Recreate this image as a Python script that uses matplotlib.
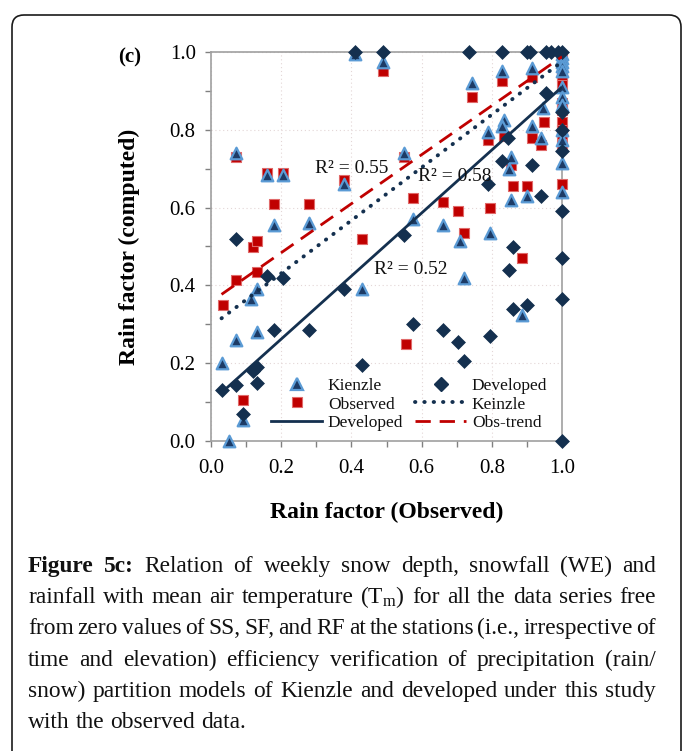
import matplotlib
matplotlib.use("Agg")
import matplotlib.pyplot as plt
from matplotlib.lines import Line2D
from matplotlib.patches import FancyBboxPatch
from matplotlib.ticker import MultipleLocator
import numpy as np

plt.rcParams['font.family'] = ['Liberation Serif', 'DejaVu Serif']
plt.rcParams['mathtext.fontset'] = 'custom'
plt.rcParams['mathtext.rm'] = 'Liberation Serif'
plt.rcParams['mathtext.it'] = 'Liberation Serif:italic'

# ---------------- data ----------------
kienzle_x = [0.03, 0.05, 0.07, 0.07, 0.09, 0.115, 0.13, 0.13, 0.16, 0.205, 0.18, 0.28,
             0.38, 0.43, 0.41, 0.49, 0.55, 0.575, 0.66, 0.71, 0.72, 0.745, 0.795, 0.79,
             0.835, 0.83, 0.83, 0.855, 0.85, 0.855, 0.90, 0.885, 0.915, 0.915, 0.94, 0.945,
             1.0, 1.0, 1.0, 1.0, 1.0, 1.0, 1.0, 1.0, 1.0, 1.0, 1.0, 1.0]
kienzle_y = [0.20, 0.0, 0.74, 0.26, 0.055, 0.365, 0.39, 0.28, 0.685, 0.685, 0.555, 0.56,
             0.66, 0.39, 0.995, 0.975, 0.74, 0.57, 0.555, 0.515, 0.42, 0.92, 0.535, 0.795,
             0.825, 0.81, 0.95, 0.73, 0.70, 0.62, 0.63, 0.325, 0.96, 0.81, 0.78, 0.855,
             0.995, 0.985, 0.975, 0.965, 0.95, 0.91, 0.885, 0.865, 0.80, 0.775, 0.715, 0.64]

observed_x = [0.035, 0.07, 0.09, 0.12, 0.13, 0.13, 0.07, 0.16, 0.205, 0.18, 0.28, 0.38,
              0.43, 0.49, 0.55, 0.555, 0.575, 0.66, 0.705, 0.72, 0.745, 0.79, 0.795, 0.83,
              0.835, 0.855, 0.86, 0.885, 0.90, 0.915, 0.915, 0.94, 0.95,
              1.0, 1.0, 1.0, 1.0, 1.0, 1.0, 1.0, 1.0, 1.0, 1.0, 1.0]
observed_y = [0.35, 0.415, 0.105, 0.50, 0.515, 0.435, 0.73, 0.69, 0.69, 0.61, 0.61, 0.67,
              0.52, 0.95, 0.73, 0.25, 0.625, 0.615, 0.59, 0.535, 0.885, 0.775, 0.60, 0.925,
              0.785, 0.71, 0.655, 0.47, 0.655, 0.935, 0.78, 0.76, 0.82,
              0.99, 0.95, 0.935, 0.915, 0.87, 0.85, 0.82, 0.80, 0.79, 0.76, 0.66]

developed_x = [0.03, 0.07, 0.07, 0.09, 0.12, 0.13, 0.13, 0.16, 0.205, 0.18, 0.28, 0.38,
               0.43, 0.41, 0.49, 0.55, 0.575, 0.66, 0.705, 0.72, 0.735, 0.79, 0.795, 0.83,
               0.83, 0.845, 0.86, 0.85, 0.86, 0.90, 0.90, 0.915, 0.91, 0.94, 0.955, 0.955,
               0.97, 0.99, 1.0, 1.0, 1.0, 1.0, 1.0, 1.0, 1.0, 1.0]
developed_y = [0.13, 0.52, 0.145, 0.07, 0.18, 0.19, 0.15, 0.425, 0.42, 0.285, 0.285, 0.39,
               0.195, 1.0, 1.0, 0.53, 0.30, 0.285, 0.255, 0.205, 1.0, 0.66, 0.27, 0.72,
               1.0, 0.78, 0.50, 0.44, 0.34, 0.35, 1.0, 0.71, 1.0, 0.63, 0.895, 1.0,
               1.0, 1.0, 1.0, 0.845, 0.80, 0.745, 0.59, 0.47, 0.365, 0.0]

# trend lines (intercept, slope) over the observed range
trend_range = [0.03, 1.0]
developed_trend = (0.100, 0.810)
keinzle_trend = (0.295, 0.680)
obs_trend = (0.358, 0.630)

r2_labels = ["R² = 0.55", "R² = 0.58", "R² = 0.52"]
r2_pos = [(0.296, 0.70), (0.59, 0.68), (0.464, 0.44)]

caption_lines = [
    "Figure 5c: Relation of weekly snow depth, snowfall (WE) and",
    "rainfall with mean air temperature (T$_\\mathrm{m}$) for all the data series free",
    "from zero values of SS, SF, and RF at the stations (i.e., irrespective of",
    "time and elevation) efficiency verification of precipitation (rain/",
    "snow) partition models of Kienzle and developed under this study",
    "with the observed data.",
]

# ---------------- figure ----------------
W, H = 683, 751
fig = plt.figure(figsize=(W / 100, H / 100), dpi=100)

frame = FancyBboxPatch((0.12, -0.5), 6.69, 7.36 + 0.5,
                       boxstyle="round,pad=0,rounding_size=0.12",
                       transform=fig.dpi_scale_trans, fill=False,
                       edgecolor='#1a1a1a', linewidth=1.2)
fig.patches.append(frame)

ax = fig.add_axes([211 / W, 1 - 441 / H, (562 - 211) / W, (441 - 52) / H])
ax.set_xlim(0, 1)
ax.set_ylim(0, 1)

navy = '#14304f'
red = '#c00000'

ax.scatter(observed_x, observed_y, marker='s', s=48, facecolor=red,
           edgecolor='#e06a6a', linewidth=0.8, zorder=3, clip_on=False)
ax.scatter(kienzle_x, kienzle_y, marker='^', s=70, facecolor='#1d3b66',
           edgecolor='#5b9bd5', linewidth=1.6, zorder=4, clip_on=False)
ax.scatter(developed_x, developed_y, marker='D', s=50, facecolor=navy,
           edgecolor=navy, linewidth=0.5, zorder=5, clip_on=False)

xs = np.array(trend_range)
ax.plot(xs, developed_trend[0] + developed_trend[1] * xs, color=navy, lw=2.0,
        zorder=6, solid_capstyle='butt')
ax.plot(xs, keinzle_trend[0] + keinzle_trend[1] * xs, color=navy, lw=2.8,
        linestyle=(0, (0.1, 2.3)), dash_capstyle='round', zorder=6)
ax.plot(xs, obs_trend[0] + obs_trend[1] * xs, color=red, lw=2.0,
        linestyle=(0, (5.5, 3.2)), zorder=6)

for lab, (tx, ty) in zip(r2_labels, r2_pos):
    ax.text(tx, ty, lab, fontsize=14, ha='left', va='center', color='#111111', zorder=7)

# axes styling
for s in ax.spines.values():
    s.set_color('#a0a0a0')
    s.set_linewidth(1.2)
ax.xaxis.set_major_locator(MultipleLocator(0.2))
ax.yaxis.set_major_locator(MultipleLocator(0.2))
ax.xaxis.set_minor_locator(MultipleLocator(0.1))
ax.yaxis.set_minor_locator(MultipleLocator(0.1))
ax.tick_params(which='both', direction='out', length=4, width=1.0, color='#808080')
ax.tick_params(axis='both', which='major', labelsize=15, colors='#808080',
               labelcolor='black')
ax.tick_params(axis='x', pad=9)
ax.tick_params(axis='y', pad=7)
ax.xaxis.set_major_formatter(matplotlib.ticker.FormatStrFormatter('%.1f'))
ax.yaxis.set_major_formatter(matplotlib.ticker.FormatStrFormatter('%.1f'))
ax.grid(True, which='major', color='#e3d6d6', linestyle=(0, (1, 2.5)), lw=0.8)
ax.set_axisbelow(True)

ax.set_xlabel("Rain factor (Observed)", fontsize=17, fontweight='bold', labelpad=17)
ax.set_ylabel("Rain factor (computed)", fontsize=17, fontweight='bold', labelpad=21)

fig.text(130 / W, 1 - 57 / H, "(c)", fontsize=15, fontweight='bold',
         ha='center', va='center')

# legend
h_k = Line2D([], [], marker='^', linestyle='none', markersize=8.5,
             markerfacecolor='#1d3b66', markeredgecolor='#5b9bd5', markeredgewidth=1.6)
h_o = Line2D([], [], marker='s', linestyle='none', markersize=7,
             markerfacecolor=red, markeredgecolor='#e06a6a', markeredgewidth=0.8)
h_dl = Line2D([], [], color=navy, lw=2.0)
h_dd = Line2D([], [], marker='D', linestyle='none', markersize=7,
              markerfacecolor=navy, markeredgecolor=navy)
h_kd = Line2D([], [], color=navy, lw=2.8, linestyle=(0, (0.1, 2.3)),
              dash_capstyle='round')
h_ot = Line2D([], [], color=red, lw=2.0, linestyle=(0, (5.5, 3.2)))
leg = ax.legend([h_k, h_o, h_dl, h_dd, h_kd, h_ot],
                ["Kienzle", "Observed", "Developed", "Developed", "Keinzle", "Obs-trend"],
                ncol=2, loc='lower left', bbox_to_anchor=(0.172, 0.025),
                frameon=False, fontsize=12.5, handlelength=2.9, handletextpad=0.35,
                columnspacing=0.7, labelspacing=0.15, borderpad=0, borderaxespad=0)
for t in leg.get_texts():
    t.set_color('#111111')

# caption with justified lines
fig.canvas.draw()
renderer = fig.canvas.get_renderer()
cap_fs = 16.8
x_left, x_right = 28, 656
line_centers = [566, 597, 628, 660, 691, 722]

m1 = fig.text(0, 0, 'a a', fontsize=cap_fs)
m2 = fig.text(0, 0, 'aa', fontsize=cap_fs)
space_w = m1.get_window_extent(renderer).width - m2.get_window_extent(renderer).width
m1.remove()
m2.remove()

for li, (line, yc) in enumerate(zip(caption_lines, line_centers)):
    words = line.split(' ')
    texts = []
    for wi, wd in enumerate(words):
        bold = (li == 0 and wi < 2)
        texts.append(fig.text(0, 0, wd, fontsize=cap_fs,
                              fontweight='bold' if bold else 'normal',
                              ha='left', va='baseline', color='#111111'))
    widths = [t.get_window_extent(renderer).width for t in texts]
    last = (li == len(caption_lines) - 1)
    if last:
        gap = space_w
    else:
        gap = (x_right - x_left - sum(widths)) / (len(words) - 1)
    xpos = x_left
    yb = H - (yc + 6)
    for t, w in zip(texts, widths):
        t.set_position((xpos / W, yb / H))
        xpos += w + gap

fig.savefig("out.png", dpi=100)
